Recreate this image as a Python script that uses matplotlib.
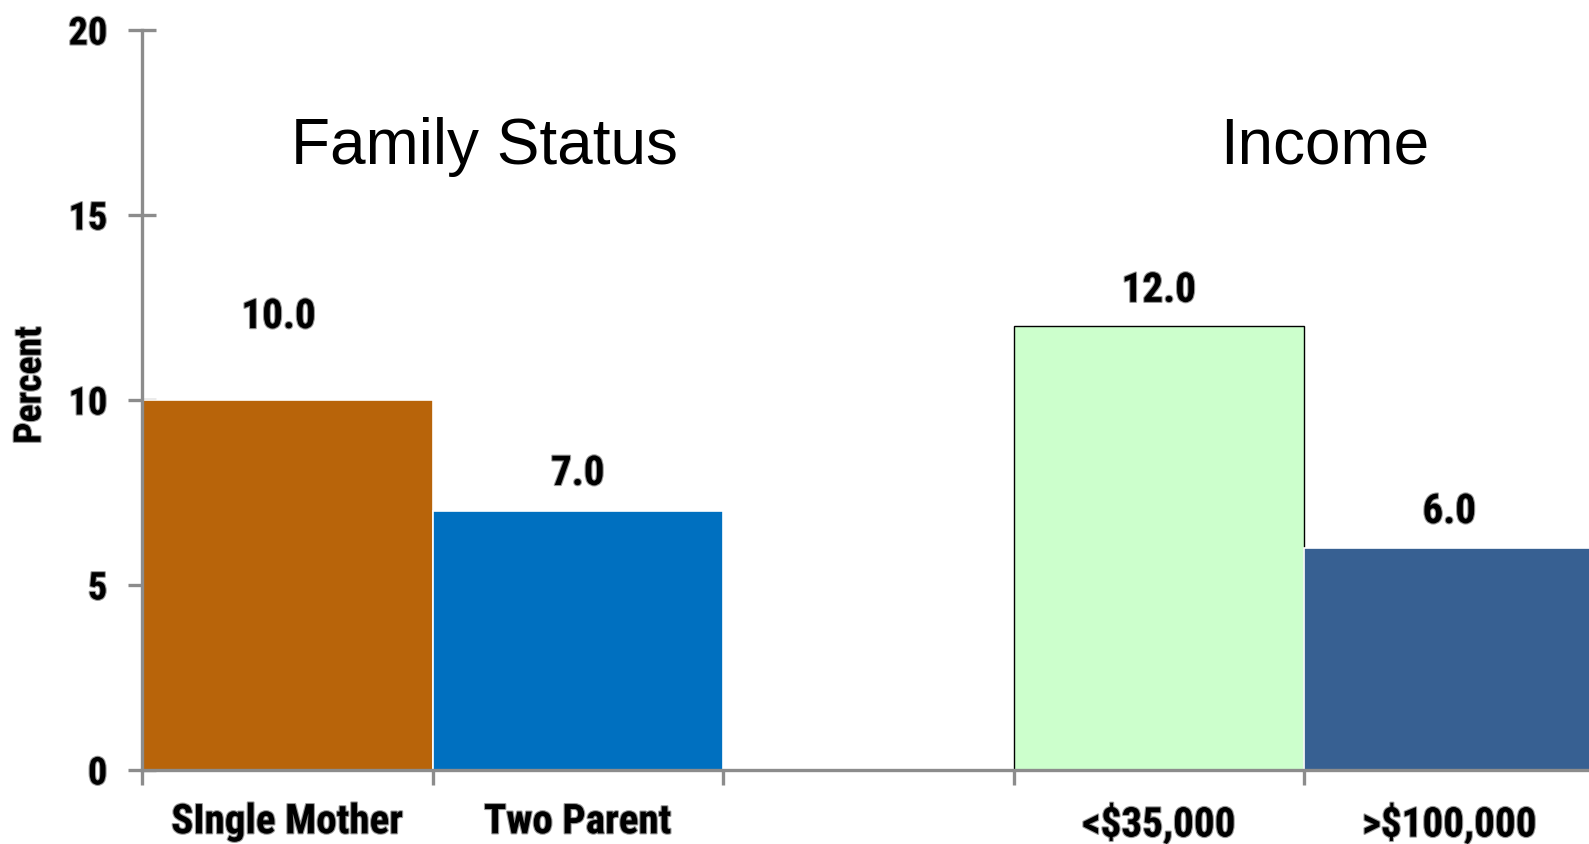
import matplotlib
matplotlib.use("Agg")
import matplotlib.pyplot as plt
from matplotlib import font_manager
import matplotlib.patheffects as pe

# ---- data ----
categories = ["SIngle Mother", "Two Parent", "<$35,000", ">$100,000"]
values = [10.0, 7.0, 12.0, 6.0]
slots = [0, 1, 3, 4]          # slot index of each bar (slot 2 is empty)
colors = ["#B8640A", "#0070C0", "#CCFFCC", "#376092"]
edges = ["white", "white", "black", "white"]
label_offsets = [2.24, 1.0, 0.95, 0.97]
label_x_shift = [-0.03, 0.0, 0.0, 0.0]
group_titles = ["Family Status", "Income"]
group_title_x = [1.18, 4.07]
group_title_y = 16.84
yticks = [0, 5, 10, 15, 20]
n_slots = 5

names = {f.name for f in font_manager.fontManager.ttflist}
narrow = "DejaVu Sans"
for cand in ["Liberation Sans Narrow", "Roboto Condensed", "Open Sans Condensed",
             "Liberation Sans", "Roboto"]:
    if cand in names:
        narrow = cand
        break
regular = "Liberation Sans" if "Liberation Sans" in names else "DejaVu Sans"

W, H = 1589, 844
fig = plt.figure(figsize=(W / 100, H / 100), dpi=100)

# fit bold font size so that "SIngle Mother" is ~231 px wide like the reference
renderer = fig.canvas.get_renderer()
probe = fig.text(0, 0, categories[0], family=narrow, weight="bold", fontsize=10)
w10 = probe.get_window_extent(renderer).width
probe.remove()
cat_size = 10 * 231 / w10
k = cat_size / 30.0
val_size = 30 * k
tick_size = 28 * k
pct_size = 27.5 * k

left_px, bottom_px, top_px = 142, 770, 30
slot_w = 290.5
ax = fig.add_axes([left_px / W, 1 - bottom_px / H,
                   n_slots * slot_w / W, (bottom_px - top_px) / H])

halo = [pe.withStroke(linewidth=1.6, foreground="#9a9a9a")]
bold = dict(family=narrow, weight="bold")

xs = [s + 0.5 for s in slots]
for x, v, c, e in zip(xs, values, colors, edges):
    ax.bar(x, v, width=1.0, color=c, edgecolor=e, linewidth=1.0 if e == "black" else 1.2, zorder=2)

for x, v, off, dx in zip(xs, values, label_offsets, label_x_shift):
    ax.text(x + dx, v + off, f"{v:.1f}", ha="center", va="center", fontsize=val_size,
            color="black", path_effects=halo, **bold)

for t, gx in zip(group_titles, group_title_x):
    ax.text(gx, group_title_y, t, ha="center", va="center", fontsize=46,
            family=regular, color="black")

ax.set_xlim(0, n_slots)
ax.set_ylim(0, 20)

for s in ["top", "right"]:
    ax.spines[s].set_visible(False)
for s in ["left", "bottom"]:
    ax.spines[s].set_color("#8c8c8c")
    ax.spines[s].set_linewidth(2.4)
    ax.spines[s].set_zorder(3)

ax.set_yticks(yticks)
ax.set_yticklabels([str(t) for t in yticks])
ax.tick_params(axis="y", direction="inout", length=20, width=2.4, color="#8c8c8c",
               pad=15)
for lab in ax.get_yticklabels():
    lab.set_fontproperties(font_manager.FontProperties(family=narrow, weight="bold", size=tick_size))
    lab.set_path_effects(halo)

# slot boundaries as major ticks, category labels on minor ticks
ax.set_xticks(list(range(n_slots)))
ax.set_xticklabels([])
ax.tick_params(axis="x", which="major", direction="out", length=11, width=2.4, color="#8c8c8c")
ax.set_xticks(xs, minor=True)
ax.set_xticklabels(categories, minor=True)
ax.tick_params(axis="x", which="minor", length=0, pad=24)
for lab in ax.get_xticklabels(minor=True):
    lab.set_fontproperties(font_manager.FontProperties(family=narrow, weight="bold", size=cat_size))
    lab.set_path_effects(halo)

fig.text(30 / W, 1 - 385 / H, "Percent", rotation=90, ha="center", va="center",
         fontsize=pct_size, path_effects=halo, **bold)

fig.savefig("out.png", dpi=100)
